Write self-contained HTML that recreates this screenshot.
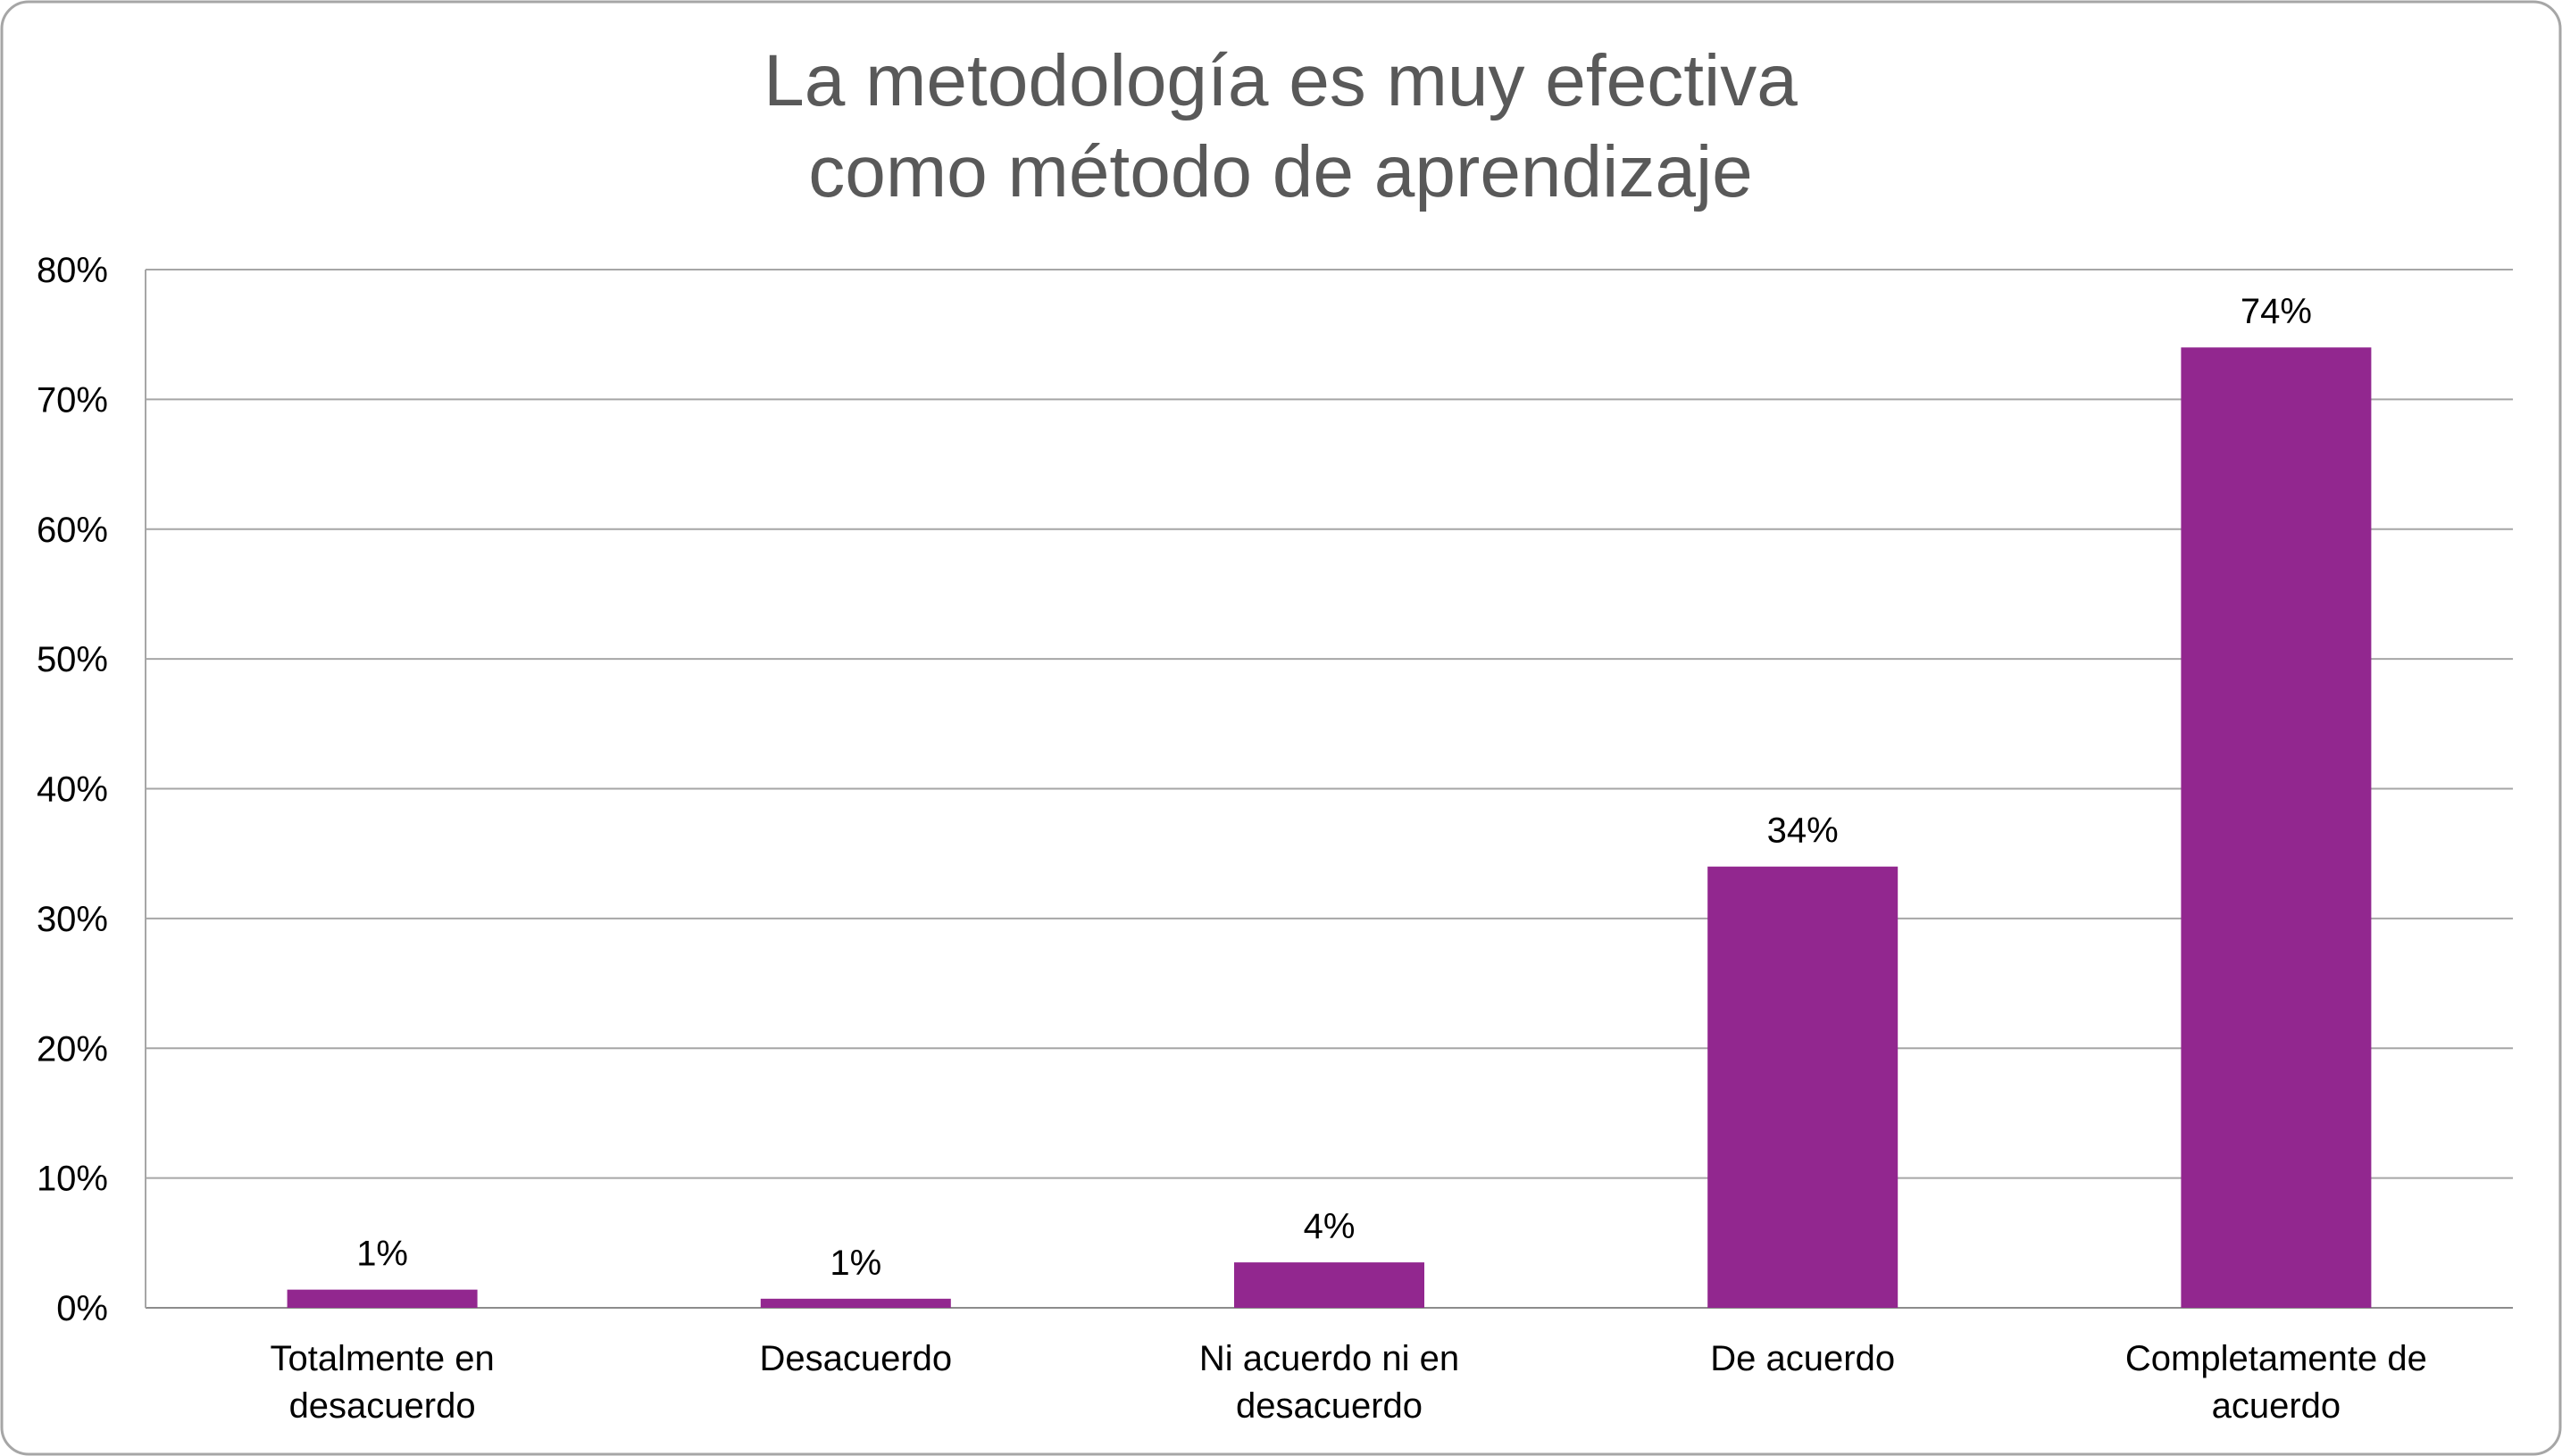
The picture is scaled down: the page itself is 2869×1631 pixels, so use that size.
<!DOCTYPE html>
<html><head><meta charset="utf-8"><style>
html,body{margin:0;padding:0;background:#fff;}
svg{display:block;font-family:"Liberation Sans",Arial,sans-serif;}
</style></head><body>
<svg id="chart" width="2869" height="1631" viewBox="0 0 2869 1631" xmlns="http://www.w3.org/2000/svg">
<rect x="2" y="2" width="2865" height="1627" rx="30" ry="30" fill="#fff" stroke="#a6a6a6" stroke-width="3"/>
<text x="1434" y="118" text-anchor="middle" font-size="82" fill="#595959">La metodología es muy efectiva</text>
<text x="1434" y="220" text-anchor="middle" font-size="82" fill="#595959">como método de aprendizaje</text>
<g id="grid"></g><g id="bars"></g><g id="labels"></g>
</svg>
<script>
const categories = [["Totalmente en","desacuerdo"],["Desacuerdo"],["Ni acuerdo ni en","desacuerdo"],["De acuerdo"],["Completamente de","acuerdo"]];
const values = [1.4, 0.7, 3.5, 34, 74];
const valueLabels = ["1%","1%","4%","34%","74%"];
const ticks = [0,10,20,30,40,50,60,70,80];
const NS="http://www.w3.org/2000/svg";
const L=163,R=2814,T=302,B=1465,yMax=80;
const y=v=>B-(v/yMax)*(B-T);
const band=(R-L)/categories.length;
const xc=i=>L+band*(i+0.5);
const bw=213;
function mk(t,a,p){const e=document.createElementNS(NS,t);for(const k in a)e.setAttribute(k,a[k]);p.appendChild(e);return e;}
const g=document.getElementById('grid'),gb=document.getElementById('bars'),gl=document.getElementById('labels');
ticks.forEach(t=>{
 const ln=mk('line',{x1:L,x2:R,y1:y(t),y2:y(t),stroke:t===0?'#8c8c8c':'#a6a6a6','stroke-width':2},g);
 
 
 const tx=mk('text',{x:121,y:y(t)+14,'text-anchor':'end','font-size':40,fill:'#000'},g);
 tx.textContent=t+'%';
 
 
});
mk('line',{x1:L,x2:L,y1:T,y2:B,stroke:'#a6a6a6','stroke-width':2},g);
values.forEach((v,i)=>{
 const r=mk('rect',{x:xc(i)-bw/2,y:y(v),width:bw,height:B-y(v),fill:'#92278f'},gb);
 
 
 const vl=mk('text',{x:xc(i),y:y(v)-27,'text-anchor':'middle','font-size':40,fill:'#000'},gl);
 vl.textContent=valueLabels[i];
 
 
 categories[i].forEach((s,j)=>{
  const c=mk('text',{x:xc(i),y:1535+j*53,'text-anchor':'middle','font-size':40,fill:'#000'},gl);
  c.textContent=s;
  
  
 });
});
</script>
</body></html>
